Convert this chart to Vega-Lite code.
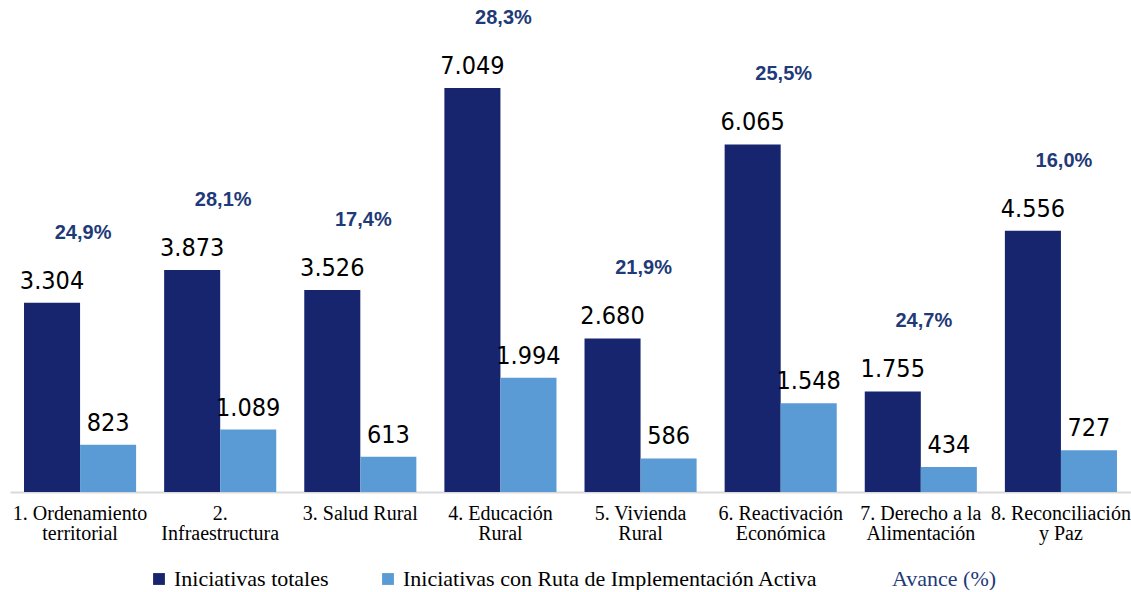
{
  "$schema": "https://vega.github.io/schema/vega-lite/v6.json",
  "width": 1121,
  "height": 492,
  "padding": {"left": 10, "top": 0, "right": 0, "bottom": 0},
  "background": "white",
  "config": {
    "view": {"stroke": null},
    "locale": {"number": {"decimal": ",", "thousands": ".", "grouping": [3], "currency": ["", "€"]}}
  },
  "datasets": {
    "bars": [
      {"cat": "1. Ordenamiento|territorial", "serie": "Iniciativas totales", "valor": 3304},
      {"cat": "1. Ordenamiento|territorial", "serie": "Iniciativas con Ruta de Implementación Activa", "valor": 823},
      {"cat": "2.|Infraestructura", "serie": "Iniciativas totales", "valor": 3873},
      {"cat": "2.|Infraestructura", "serie": "Iniciativas con Ruta de Implementación Activa", "valor": 1089},
      {"cat": "3. Salud Rural", "serie": "Iniciativas totales", "valor": 3526},
      {"cat": "3. Salud Rural", "serie": "Iniciativas con Ruta de Implementación Activa", "valor": 613},
      {"cat": "4. Educación|Rural", "serie": "Iniciativas totales", "valor": 7049},
      {"cat": "4. Educación|Rural", "serie": "Iniciativas con Ruta de Implementación Activa", "valor": 1994},
      {"cat": "5. Vivienda|Rural", "serie": "Iniciativas totales", "valor": 2680},
      {"cat": "5. Vivienda|Rural", "serie": "Iniciativas con Ruta de Implementación Activa", "valor": 586},
      {"cat": "6. Reactivación|Económica", "serie": "Iniciativas totales", "valor": 6065},
      {"cat": "6. Reactivación|Económica", "serie": "Iniciativas con Ruta de Implementación Activa", "valor": 1548},
      {"cat": "7. Derecho a la|Alimentación", "serie": "Iniciativas totales", "valor": 1755},
      {"cat": "7. Derecho a la|Alimentación", "serie": "Iniciativas con Ruta de Implementación Activa", "valor": 434},
      {"cat": "8. Reconciliación|y Paz", "serie": "Iniciativas totales", "valor": 4556},
      {"cat": "8. Reconciliación|y Paz", "serie": "Iniciativas con Ruta de Implementación Activa", "valor": 727}
    ],
    "pct": [
      {"cat": "1. Ordenamiento|territorial", "total": 3304, "avance": 0.249},
      {"cat": "2.|Infraestructura", "total": 3873, "avance": 0.281},
      {"cat": "3. Salud Rural", "total": 3526, "avance": 0.174},
      {"cat": "4. Educación|Rural", "total": 7049, "avance": 0.283},
      {"cat": "5. Vivienda|Rural", "total": 2680, "avance": 0.219},
      {"cat": "6. Reactivación|Económica", "total": 6065, "avance": 0.255},
      {"cat": "7. Derecho a la|Alimentación", "total": 1755, "avance": 0.247},
      {"cat": "8. Reconciliación|y Paz", "total": 4556, "avance": 0.160}
    ]
  },
  "encoding": {
    "x": {
      "field": "cat",
      "type": "nominal",
      "sort": null,
      "scale": {"paddingInner": 0.2, "paddingOuter": 0.1},
      "axis": {
        "title": null,
        "labelAngle": 0,
        "labelExpr": "split(datum.label, '|')",
        "labelFont": "Liberation Serif, DejaVu Serif, serif",
        "labelFontSize": 20,
        "labelColor": "#000000",
        "labelLineHeight": 20,
        "labelPadding": 11,
        "labelLimit": 200,
        "ticks": false,
        "domainColor": "#D9D9D9",
        "domainWidth": 2
      }
    }
  },
  "layer": [
    {
      "data": {"name": "bars"},
      "mark": {"type": "bar"},
      "encoding": {
        "xOffset": {"field": "serie", "type": "nominal", "sort": ["Iniciativas totales", "Iniciativas con Ruta de Implementación Activa"], "scale": {"paddingInner": 0}},
        "y": {"field": "valor", "type": "quantitative", "scale": {"domain": [0, 8584], "nice": false}, "axis": null},
        "color": {
          "field": "serie",
          "type": "nominal",
          "scale": {
            "domain": ["Iniciativas totales", "Iniciativas con Ruta de Implementación Activa", "Avance (%)"],
            "range": ["#16256E", "#5B9BD5", "transparent"]
          },
          "legend": {
            "title": null,
            "orient": "none",
            "direction": "horizontal",
            "legendX": 138,
            "legendY": 568,
            "symbolType": "square",
            "symbolSize": 140,
            "symbolStrokeWidth": 0,
            "labelFont": "Liberation Serif, DejaVu Serif, serif",
            "labelFontSize": 22,
            "labelLimit": 600,
            "labelOffset": 4,
            "columnPadding": 48,
            "encode": {
              "labels": {"update": {"fill": {"signal": "datum.label == 'Avance (%)' ? '#1F3A78' : '#000000'"}}}
            }
          }
        }
      }
    },
    {
      "data": {"name": "bars"},
      "mark": {"type": "text", "font": "Liberation Sans Narrow, Arial Narrow, DejaVu Sans Condensed, Liberation Sans, sans-serif", "fontSize": 25, "baseline": "alphabetic", "dy": -14, "color": "#000000"},
      "encoding": {
        "xOffset": {"field": "serie", "type": "nominal", "sort": ["Iniciativas totales", "Iniciativas con Ruta de Implementación Activa"]},
        "y": {"field": "valor", "type": "quantitative"},
        "text": {"field": "valor", "type": "quantitative", "format": ",d"}
      }
    },
    {
      "data": {"name": "pct"},
      "mark": {"type": "text", "font": "Liberation Sans, Arial, sans-serif", "fontWeight": "bold", "fontSize": 20, "baseline": "middle", "dy": -70, "dx": 3, "color": "#1F3A78"},
      "encoding": {
        "y": {"field": "total", "type": "quantitative"},
        "text": {"field": "avance", "type": "quantitative", "format": ".1%"}
      }
    }
  ]
}
